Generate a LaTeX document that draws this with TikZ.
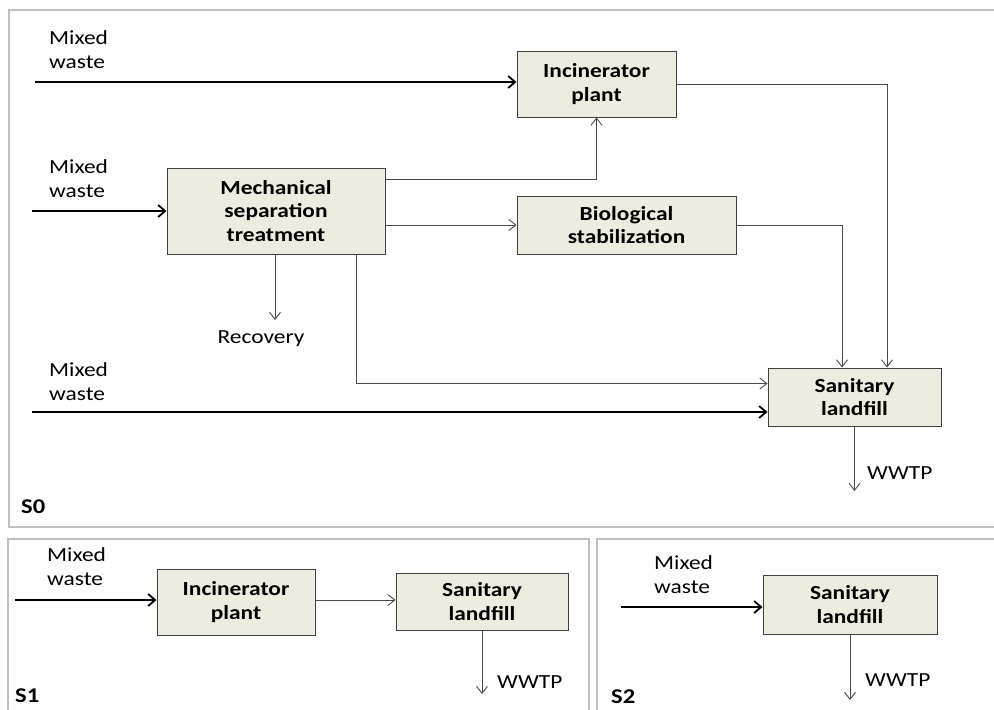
\documentclass[tikz,border=0pt]{standalone}
\usepackage{fontspec}
\setmainfont{Carlito}[FakeStretch=1.17]
\usetikzlibrary{arrows.meta}
\definecolor{boxfill}{HTML}{EEECE1}
\definecolor{boxline}{HTML}{404040}
\definecolor{frameline}{HTML}{BFBFBF}
\definecolor{flowline}{HTML}{4A4A4A}

\begin{document}
\begin{tikzpicture}[x=1pt,y=-1pt,font=\fontsize{20}{23.5}\selectfont,
  procbox/.style={draw=boxline,fill=boxfill,line width=1pt,align=center,inner sep=0pt,font=\fontsize{20}{23.5}\selectfont\bfseries},
  feed/.style={draw=black,line width=1.8pt,-{Straight Barb[length=7pt,width=12pt]}},
  flow/.style={draw=flowline,line width=0.9pt,-{Straight Barb[length=7pt,width=11pt]}},
  panel/.style={draw=frameline,line width=1.5pt},
  lbl/.style={anchor=base west,inner sep=0pt,align=left},
  tag/.style={anchor=base west,inner sep=0pt,font=\fontsize{21}{24}\selectfont\bfseries}]
\useasboundingbox (0,0) rectangle (994,710);
\draw[panel] (1000,10) -- (9,10) -- (9,527) -- (1000,527);
\draw[panel] (8,715) -- (8,539) -- (589,539) -- (589,715);
\draw[panel] (597,715) -- (597,539) -- (1000,539);

\node[procbox,minimum width=159pt,minimum height=66pt] (inc) at (596.5,84) {Incinerator\\plant};
\node[procbox,minimum width=218pt,minimum height=86pt] (mst) at (276,211) {Mechanical\\separation\\treatment};
\node[procbox,minimum width=219pt,minimum height=58pt] (bio) at (626.5,225) {Biological\\stabilization};
\node[procbox,minimum width=173pt,minimum height=58pt] (land) at (854.5,397) {Sanitary\\landfill};
\node[procbox,minimum width=158pt,minimum height=66pt] (inc1) at (236,602) {Incinerator\\plant};
\node[procbox,minimum width=172pt,minimum height=57pt] (land1) at (482,601.5) {Sanitary\\landfill};
\node[procbox,minimum width=174pt,minimum height=59pt] (land2) at (850,604.5) {Sanitary\\landfill};

\node[lbl] (mw0) at (49,68) {Mixed\\waste};
\node[lbl] (mw1) at (49,197) {Mixed\\waste};
\node[lbl] (mw2) at (49,400) {Mixed\\waste};
\node[lbl] (mw3) at (47,585) {Mixed\\waste};
\node[lbl] (mw4) at (654,593) {Mixed\\waste};
\node[anchor=base,inner sep=0pt] (rec) at (261,343) {Recovery};
\node[lbl] (ww0) at (867,479) {WWTP};
\node[lbl] (ww1) at (497,688) {WWTP};
\node[lbl] (ww2) at (865,686) {WWTP};
\node[tag] (s0) at (21,513) {S0};
\node[tag] (s1) at (15,702) {S1};
\node[tag] (s2) at (611,703) {S2};

\coordinate (in0) at (35,82);
\coordinate (in1) at (32,211);
\coordinate (in2) at (32,412);
\coordinate (in3) at (15,600);
\coordinate (in4) at (621,607);
\coordinate (recend) at (275,320);
\coordinate (ww0end) at (854.5,491);
\coordinate (ww1end) at (482,694);
\coordinate (ww2end) at (850,700);

\draw[feed] (in0) -- (in0 -| inc.west);
\draw[feed] (in1) -- (in1 -| mst.west);
\draw[feed] (in2) -- (in2 -| land.west);
\draw[feed] (in3) -- (in3 -| inc1.west);
\draw[feed] (in4) -- (in4 -| land2.west);

\draw[flow] ([yshift=-12pt]mst.north east) -| (inc.south);
\draw[flow] (mst.east |- bio.west) -- (bio.west);
\draw[flow] (inc.east) -| ([xshift=32.5pt]land.north);
\draw[flow] (bio.east) -| ([xshift=-12.5pt]land.north);
\draw[flow] ([xshift=-29pt]mst.south east) |- ([yshift=-16pt]land.north west);
\draw[flow] (mst.south -| recend) -- (recend);
\draw[flow] (land.south) -- (ww0end);
\draw[flow] (inc1.east |- in3) -- (in3 -| land1.west);
\draw[flow] (land1.south) -- (ww1end);
\draw[flow] (land2.south) -- (ww2end);
\end{tikzpicture}
\end{document}
